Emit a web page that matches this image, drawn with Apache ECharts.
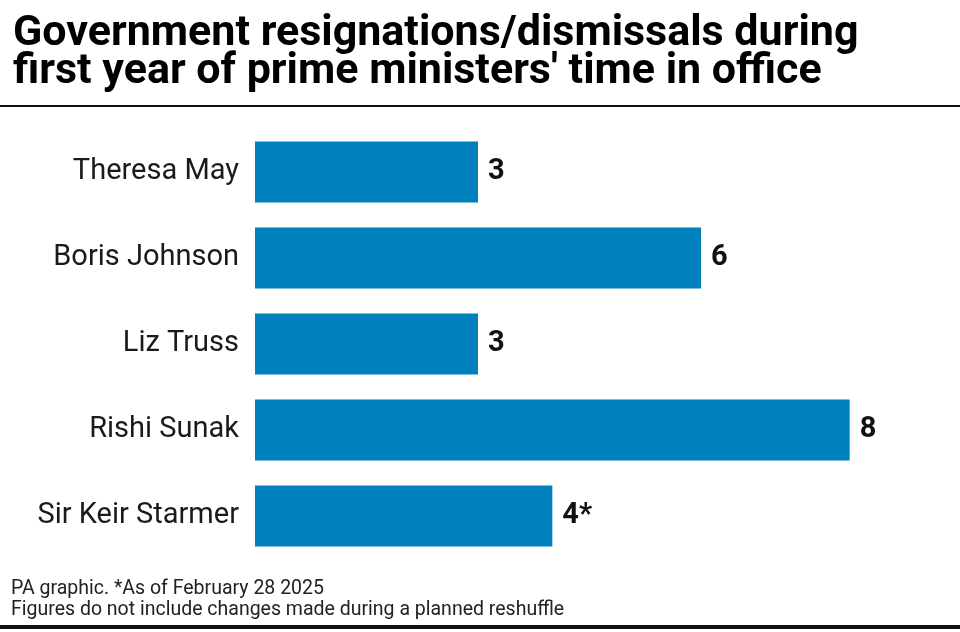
<!DOCTYPE html>
<html>
<head>
<meta charset="utf-8">
<script src="https://cdn.jsdelivr.net/npm/echarts@6/dist/echarts.min.js"></script>
<style>
  html, body { margin: 0; padding: 0; background: #fff; }
  #chart { width: 960px; height: 632px; }
</style>
</head>
<body>
<div id="chart"></div>
<script>
// data read from the PA graphic
var primeMinisters = ['Theresa May', 'Boris Johnson', 'Liz Truss', 'Rishi Sunak', 'Sir Keir Starmer'];
var departures = [3, 6, 3, 8, 4];
var valueNotes = ['', '', '', '', '*'];

var font = 'Roboto';

var chart = echarts.init(document.getElementById('chart'));
chart.setOption({
  backgroundColor: '#fff',
  animation: false,
  title: {
    text: 'Government resignations/dismissals during\nfirst year of prime ministers\' time in office',
    left: 8,
    top: 10,
    textStyle: {
      fontFamily: font,
      fontWeight: 'bold',
      fontSize: 43,
      lineHeight: 38,
      color: '#000'
    }
  },
  grid: {
    left: 255,
    top: 129,
    width: 669,
    height: 430
  },
  xAxis: {
    type: 'value',
    min: 0,
    max: 9,
    show: false
  },
  yAxis: {
    type: 'category',
    inverse: true,
    data: primeMinisters,
    axisLine: { show: false },
    axisTick: { show: false },
    axisLabel: {
      margin: 16,
      fontFamily: font,
      fontSize: 29,
      color: '#1a1a1a',
      padding: [0, 0, 6, 0]
    }
  },
  series: [{
    type: 'bar',
    data: departures,
    barWidth: 61,
    itemStyle: { color: '#0080bd' },
    label: {
      show: true,
      position: 'right',
      distance: 10,
      fontFamily: font,
      fontWeight: 'bold',
      fontSize: 29,
      color: '#111',
      padding: [0, 0, 6, 0],
      formatter: function (p) { return p.value + valueNotes[p.dataIndex]; }
    }
  }],
  graphic: [
    { type: 'rect', shape: { x: 0, y: 105, width: 960, height: 2 }, style: { fill: '#111' } },
    { type: 'rect', shape: { x: 0, y: 625, width: 960, height: 4 }, style: { fill: '#111' } },
    {
      type: 'text', left: 11, top: 579,
      style: { text: 'PA graphic. *As of February 28 2025', fontFamily: font, fontSize: 19.5, fill: '#222' }
    },
    {
      type: 'text', left: 11, top: 600,
      style: { text: 'Figures do not include changes made during a planned reshuffle', fontFamily: font, fontSize: 19.5, fill: '#222' }
    }
  ]
});
</script>
</body>
</html>
